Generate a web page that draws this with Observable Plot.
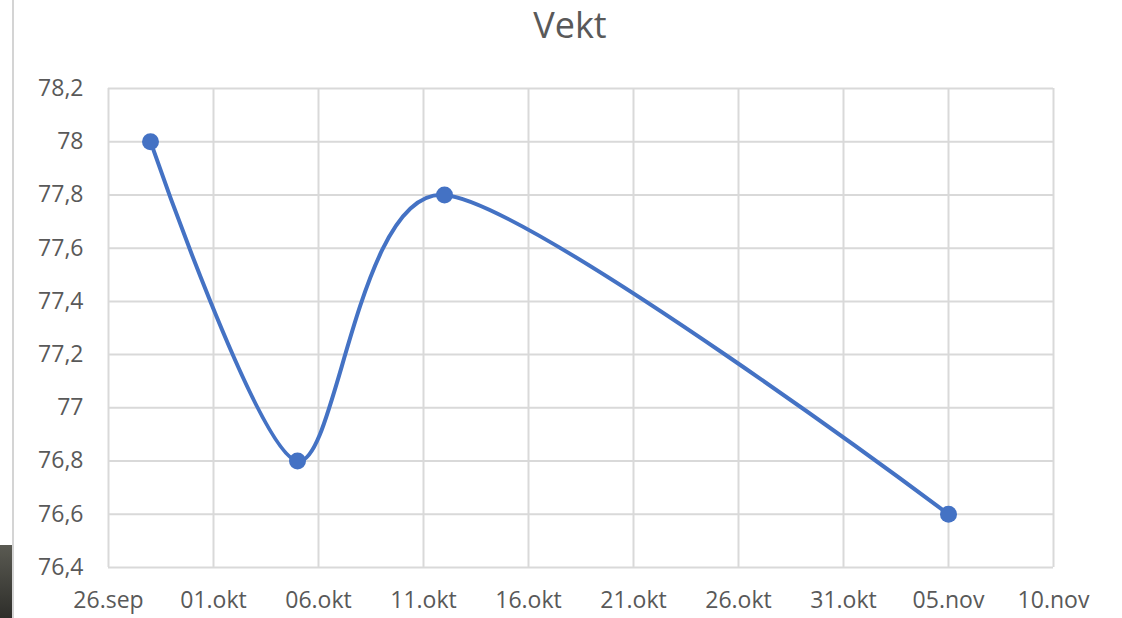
<!DOCTYPE html>
<html>
<head>
<meta charset="utf-8">
<script src="https://cdn.jsdelivr.net/npm/d3@7"></script>
<script src="https://cdn.jsdelivr.net/npm/@observablehq/plot@0.6"></script>
<style>
  html, body { margin: 0; padding: 0; background: #fff; }
  #wrap { position: relative; width: 1122px; height: 618px; overflow: hidden; font-family: "Open Sans", sans-serif; }
  #title { position: absolute; left: 570px; top: 0; transform: translateX(-50%); white-space: nowrap; font-size: 36px; line-height: normal; color: #595959; }
  #edge { position: absolute; left: 12px; top: 0; width: 2px; height: 618px; background: #d4d4d4; }
  #corner { position: absolute; left: 0; top: 545px; width: 12px; height: 73px; background: linear-gradient(#5a5a52, #2e2e2a); }
  #chart { position: absolute; left: 0; top: 0; }
</style>
</head>
<body>
<div id="wrap">
  <div id="chart"></div>
  <div id="title">Vekt</div>
  <div id="edge"></div>
  <div id="corner"></div>
</div>
<script>
const dates = ["2023-09-28", "2023-10-05", "2023-10-12", "2023-11-05"];
const weights = [78.0, 76.8, 77.8, 76.6];
const xTickDates = ["2023-09-26", "2023-10-01", "2023-10-06", "2023-10-11", "2023-10-16", "2023-10-21", "2023-10-26", "2023-10-31", "2023-11-05", "2023-11-10"];
const xTickLabels = ["26.sep", "01.okt", "06.okt", "11.okt", "16.okt", "21.okt", "26.okt", "31.okt", "05.nov", "10.nov"];
const yTicks = [76.4, 76.6, 76.8, 77.0, 77.2, 77.4, 77.6, 77.8, 78.0, 78.2];
const yTickLabels = ["76,4", "76,6", "76,8", "77", "77,2", "77,4", "77,6", "77,8", "78", "78,2"];

const data = dates.map((d, i) => ({date: new Date(d + "T00:00:00Z"), w: weights[i]}));
const xt = xTickDates.map(d => new Date(d + "T00:00:00Z"));
const xLabel = new Map(xt.map((d, i) => [+d, xTickLabels[i]]));
const yLabel = new Map(yTicks.map((v, i) => [v.toFixed(1), yTickLabels[i]]));

const chart = Plot.plot({
  width: 1122,
  height: 618,
  marginLeft: 108,
  marginRight: 69,
  marginTop: 88,
  marginBottom: 51,
  style: {fontFamily: "Open Sans, sans-serif", fontSize: "23px", color: "#595959", background: "transparent"},
  x: {type: "utc", domain: [xt[0], xt[xt.length - 1]]},
  y: {domain: [76.4, 78.2]},
  marks: [
    Plot.gridX(xt, {stroke: "#d9d9d9", strokeOpacity: 1, strokeWidth: 2}),
    Plot.gridY(yTicks, {stroke: "#d9d9d9", strokeOpacity: 1, strokeWidth: 2}),
    Plot.axisX(xt, {tickSize: 0, tickPadding: 24, tickFormat: d => xLabel.get(+d), fill: "#595959", label: null}),
    Plot.axisY(yTicks, {tickSize: 0, tickPadding: 25, tickFormat: v => yLabel.get(v.toFixed(1)), fill: "#595959", label: null}),
    Plot.line(data, {x: "date", y: "w", curve: "cardinal", tension: 0.2, stroke: "#4472C4", strokeWidth: 4}),
    Plot.dot(data, {x: "date", y: "w", r: 8.5, fill: "#4472C4", stroke: "none"})
  ]
});
document.getElementById("chart").appendChild(chart);
</script>
</body>
</html>
